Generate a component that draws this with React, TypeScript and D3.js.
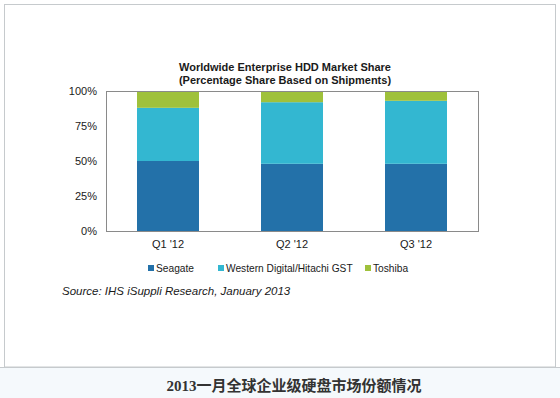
import * as d3 from "d3";

const quarters = ["Q1 '12", "Q2 '12", "Q3 '12"];
const seriesNames = ["Seagate", "Western Digital/Hitachi GST", "Toshiba"];
const seagate = [50, 48, 48];
const westernDigital = [38, 44, 45];
const toshiba = [12, 8, 7];
const yTicks = [0, 25, 50, 75, 100];
const colors = ["#2371a9", "#33b7d1", "#9fc13b"];

const W = 560;
const H = 398;
const plot = { left: 106, right: 478, top: 91, bottom: 231 };

export default function App() {
  const x = d3
    .scaleBand<string>()
    .domain(quarters)
    .range([plot.left, plot.right])
    .paddingInner(0.5)
    .paddingOuter(0.25);
  const y = d3.scaleLinear().domain([0, 100]).range([plot.bottom, plot.top]);

  const rows = quarters.map((q, i) => ({
    q,
    s0: seagate[i],
    s1: westernDigital[i],
    s2: toshiba[i],
  }));
  const stacked = d3.stack<any>().keys(["s0", "s1", "s2"])(rows);

  const font = "'Liberation Sans', Arial, sans-serif";
  const legendX = [148, 218, 365];

  return (
    <svg
      width={W}
      height={H}
      viewBox={`0 0 ${W} ${H}`}
      style={{ position: "absolute", left: 0, top: 0, display: "block" }}
    >
      <rect x={0} y={0} width={W} height={H} fill="#ffffff" />
      <rect x={0} y={367} width={W} height={H - 367} fill="#f5f9fc" />
      <rect x={4.5} y={4.5} width={551} height={362.5} fill="#ffffff" stroke="#c6cacd" />
      <line x1={0} x2={W} y1={367.5} y2={367.5} stroke="#c6cacd" />

      <g fontFamily={font} fontWeight="bold" fontSize={11} fill="#1a1a1a" textAnchor="middle">
        <text x={285} y={71}>Worldwide Enterprise HDD Market Share</text>
        <text x={285} y={84}>(Percentage Share Based on Shipments)</text>
      </g>

      {stacked.map((layer, li) => (
        <g key={li} fill={colors[li]}>
          {layer.map((d, i) => (
            <rect
              key={i}
              x={x(quarters[i])}
              y={y(d[1])}
              width={x.bandwidth()}
              height={y(d[0]) - y(d[1])}
            />
          ))}
        </g>
      ))}

      <rect
        x={plot.left + 0.5}
        y={plot.top + 0.5}
        width={plot.right - plot.left}
        height={plot.bottom - plot.top}
        fill="none"
        stroke="#8a8a8a"
      />

      <g fontFamily={font} fontSize={11} fill="#1a1a1a">
        {yTicks.map((t) => (
          <text key={t} x={97} y={y(t) + 4} textAnchor="end">
            {t}%
          </text>
        ))}
        {quarters.map((q) => (
          <text key={q} x={(x(q) ?? 0) + x.bandwidth() / 2} y={248} textAnchor="middle">
            {q}
          </text>
        ))}
        {seriesNames.map((n, i) => (
          <g key={n}>
            <rect x={legendX[i]} y={265} width={6} height={6} fill={colors[i]} />
            <text x={legendX[i] + 8} y={272} fontSize={10.2}>
              {n}
            </text>
          </g>
        ))}
        <text x={62} y={295} fontStyle="italic" fontSize={11.5}>
          Source: IHS iSuppli Research, January 2013
        </text>
      </g>

      <text
        x={294}
        y={391}
        textAnchor="middle"
        fontFamily="'Liberation Serif', 'Noto Sans CJK SC', serif"
        fontWeight="bold"
        fontSize={15}
        fill="#333333"
      >
        2013一月全球企业级硬盘市场份额情况
      </text>
    </svg>
  );
}
